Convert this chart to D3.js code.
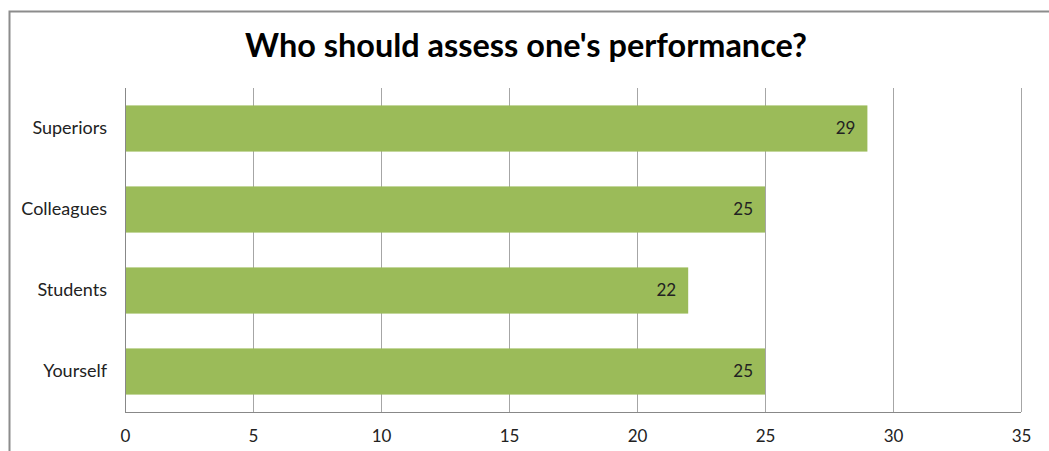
<!DOCTYPE html>
<html><head><meta charset="utf-8">
<script src="https://cdn.jsdelivr.net/npm/d3@7"></script>
<style>html,body{margin:0;padding:0;background:#fff;}svg{display:block;}</style>
</head><body>
<script>
const categories = ["Superiors", "Colleagues", "Students", "Yourself"];
const values = [29, 25, 22, 25];
const tickValues = [0, 5, 10, 15, 20, 25, 30, 35];
const title = "Who should assess one's performance?";

const W = 1049, H = 451;
const font = "Lato, 'Open Sans', sans-serif";
const svg = d3.select("body").append("svg").attr("width", W).attr("height", H);

// outer chart border (left & top visible)
svg.append("path").attr("d", `M9.5,${H} V11.5 H${W}`)
  .attr("fill", "none").attr("stroke", "#8c8c8c").attr("stroke-width", 2);

const x = d3.scaleLinear().domain([0, 35]).range([125, 1021]);
const y = d3.scaleBand().domain(categories).range([88, 412]).paddingInner(0.43).paddingOuter(0.215);

// gridlines
svg.append("g").selectAll("line").data(tickValues).join("line")
  .attr("x1", d => Math.round(x(d)) + 0.5).attr("x2", d => Math.round(x(d)) + 0.5)
  .attr("y1", 88).attr("y2", 412)
  .attr("stroke", "#a6a6a6").attr("stroke-width", 1);

// bars
svg.append("g").selectAll("rect").data(categories).join("rect")
  .attr("x", x(0)).attr("y", d => y(d))
  .attr("width", (d, i) => x(values[i]) - x(0))
  .attr("height", y.bandwidth())
  .attr("fill", "#9bbb59");

// axis baseline
svg.append("line").attr("x1", x(0)).attr("x2", x(35)).attr("y1", 412.5).attr("y2", 412.5)
  .attr("stroke", "#888").attr("stroke-width", 1);
svg.append("line").attr("x1", x(0) + 0.5).attr("x2", x(0) + 0.5).attr("y1", 88).attr("y2", 413)
  .attr("stroke", "#888").attr("stroke-width", 1);

// x axis tick labels
const xAxis = d3.axisBottom(x).tickValues(tickValues).tickSize(0).tickPadding(0);
const gx = svg.append("g").attr("transform", "translate(0,430)").call(xAxis);
gx.select(".domain").remove();
gx.selectAll("text").attr("font-family", font).attr("font-size", 17).attr("fill", "#222")
  .attr("dy", "0.71em");

// category labels
const yAxis = d3.axisLeft(y).tickSize(0).tickPadding(0);
const gy = svg.append("g").attr("transform", "translate(107,0)").call(yAxis);
gy.select(".domain").remove();
gy.selectAll("text").attr("font-family", font).attr("font-size", 18).attr("fill", "#222");

// value labels
svg.append("g").selectAll("text").data(categories).join("text")
  .attr("x", (d, i) => x(values[i]) - 12)
  .attr("y", d => y(d) + y.bandwidth() / 2)
  .attr("dy", "0.35em").attr("text-anchor", "end")
  .attr("font-family", font).attr("font-size", 17).attr("fill", "#222")
  .text((d, i) => values[i]);

// title
const t = svg.append("text").attr("x", 526).attr("y", 57).attr("text-anchor", "middle")
  .attr("font-family", font).attr("font-weight", "bold").attr("font-size", 30).attr("fill", "#000")
  .text(title);
const tw = t.node().getComputedTextLength();
t.attr("font-size", 30 * 562 / tw);
</script>
</body></html>
